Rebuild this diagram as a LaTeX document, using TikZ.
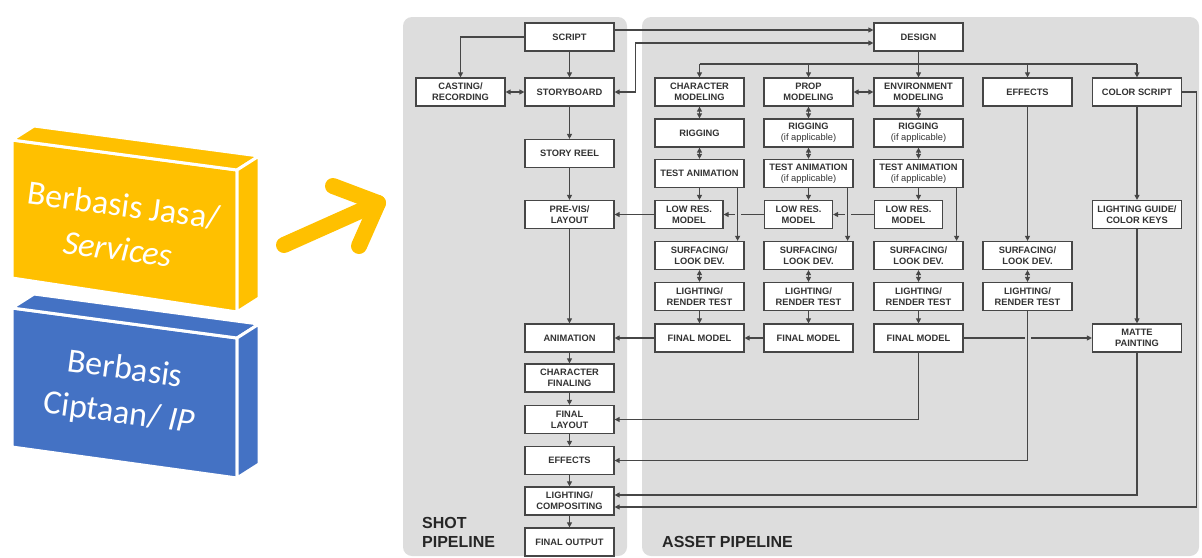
\documentclass[tikz,border=0pt]{standalone}
\usepackage{fontspec}
\setmainfont{Liberation Sans}
\newfontfamily\calibri{Carlito}
\usetikzlibrary{arrows.meta}
\definecolor{panel}{HTML}{DDDDDD}
\definecolor{ink}{HTML}{464646}
\definecolor{txt}{HTML}{333333}
\definecolor{gold}{HTML}{FFC000}
\definecolor{steel}{HTML}{4472C4}
\begin{document}
\begin{tikzpicture}[x=1pt,y=-1pt,
  stagebox/.style={draw=ink, fill=white, line width=1.2pt, minimum width=89pt,
    minimum height=28pt, inner sep=0pt, align=center, text=txt,
    font=\bfseries\fontsize{9.3}{11}\selectfont},
  lowbox/.style={stagebox, minimum width=68pt},
  link/.style={draw=ink, line width=1.1pt, -{Triangle[length=5pt,width=5pt]}},
  both/.style={link, {Triangle[length=5pt,width=5pt]}-{Triangle[length=5pt,width=5pt]}},
  plain/.style={draw=ink, line width=1.1pt},
  hop/.style={preaction={draw=panel, line width=6pt, -}},
  eraser/.style={draw=panel, line width=6pt},
  face/.style={draw=white, line width=3pt, line join=round},
  blocktext/.style={text=white, align=center, inner sep=0pt,
    font=\calibri\fontsize{34}{44}\selectfont},
  pipelabel/.style={anchor=base west, inner sep=0pt, text=black!85,
    font=\bfseries\fontsize{16}{19}\selectfont},
]
\useasboundingbox (0,0) rectangle (1202,557);

% ---- stacked business blocks ----
\path[face, fill=gold] (12,140) -- (237,170) -- (237,312) -- (12,278) -- cycle;
\path[face, fill=gold] (12,140) -- (34,126) -- (259,156) -- (237,170) -- cycle;
\path[face, fill=gold] (237,170) -- (259,156) -- (259,298) -- (237,312) -- cycle;
\path[face, fill=steel] (12,308) -- (237,338) -- (237,478) -- (12,447) -- cycle;
\path[face, fill=steel] (12,308) -- (34,294) -- (259,324) -- (237,338) -- cycle;
\path[face, fill=steel] (237,338) -- (259,324) -- (259,464) -- (237,478) -- cycle;
\node[blocktext, rotate=-7.6] (jasa) at (121,227) {Berbasis Jasa/\\\textit{Services}};
\node[blocktext, rotate=-7.6] (cipta) at (122,392) {Berbasis\\Ciptaan/ \textit{IP}};

% ---- pointer arrow ----
\coordinate (tail) at (284,245);
\coordinate (tip) at (378,203);
\coordinate (wingA) at (333,186);
\coordinate (wingB) at (359,246);
\draw[gold, line width=16pt, line cap=round, line join=round] (tail) -- (tip);
\draw[gold, line width=16pt, line cap=round, line join=round] (wingA) -- (tip) -- (wingB);

% ---- pipeline panels ----
\fill[panel, rounded corners=9pt] (403,17) rectangle (627,556);
\fill[panel, rounded corners=9pt] (642,17) rectangle (1199,556);
\node[pipelabel] (shotA) at (422,528) {SHOT};
\node[pipelabel] (shotB) at (422,547) {PIPELINE};
\node[pipelabel] (asset) at (662,547) {ASSET PIPELINE};

% ---- shot pipeline ----
\node[stagebox] (script)  at (569.5,37)    {SCRIPT};
\node[stagebox] (cast)    at (460.5,92)    {CASTING/\\RECORDING};
\node[stagebox] (story)   at (569.5,92)    {STORYBOARD};
\node[stagebox] (reel)    at (569.5,153.5) {STORY REEL};
\node[stagebox] (previs)  at (569.5,214.5) {PRE-VIS/\\LAYOUT};
\node[stagebox] (anim)    at (569.5,338)   {ANIMATION};
\node[stagebox] (charfin) at (569.5,378)   {CHARACTER\\FINALING};
\node[stagebox] (flay)    at (569.5,419.5) {FINAL\\LAYOUT};
\node[stagebox] (shfx)    at (569.5,460.5) {EFFECTS};
\node[stagebox] (comp)    at (569.5,501)   {LIGHTING/\\COMPOSITING};
\node[stagebox] (fout)    at (569.5,542)   {FINAL OUTPUT};

% ---- asset pipeline ----
\node[stagebox] (design) at (918.5,37) {DESIGN};

\node[stagebox] (chmod)  at (699.5,92) {CHARACTER\\MODELING};
\node[stagebox] (prmod)  at (808.5,92) {PROP\\MODELING};
\node[stagebox] (envmod) at (918.5,92) {ENVIRONMENT\\MODELING};
\node[stagebox] (fxmod)  at (1027.5,92) {EFFECTS};
\node[stagebox] (cscript) at (1137,92) {COLOR SCRIPT};

\node[stagebox] (chrig)  at (699.5,133) {RIGGING};
\node[stagebox] (prrig)  at (808.5,133) {RIGGING\\{\mdseries(if applicable)}};
\node[stagebox] (envrig) at (918.5,133) {RIGGING\\{\mdseries(if applicable)}};

\node[stagebox] (chtest)  at (699.5,173.5) {TEST ANIMATION};
\node[stagebox] (prtest)  at (808.5,173.5) {TEST ANIMATION\\{\mdseries(if applicable)}};
\node[stagebox] (envtest) at (918.5,173.5) {TEST ANIMATION\\{\mdseries(if applicable)}};

\node[lowbox] (chlow)  at (689,214.5)   {LOW RES.\\MODEL};
\node[lowbox] (prlow)  at (798.5,214.5) {LOW RES.\\MODEL};
\node[lowbox] (envlow) at (908.5,214.5) {LOW RES.\\MODEL};
\node[stagebox] (lguide) at (1137,214.5) {LIGHTING GUIDE/\\COLOR KEYS};

\node[stagebox] (chsurf)  at (699.5,255.5)  {SURFACING/\\LOOK DEV.};
\node[stagebox] (prsurf)  at (808.5,255.5)  {SURFACING/\\LOOK DEV.};
\node[stagebox] (envsurf) at (918.5,255.5)  {SURFACING/\\LOOK DEV.};
\node[stagebox] (fxsurf)  at (1027.5,255.5) {SURFACING/\\LOOK DEV.};

\node[stagebox] (chlrt)  at (699.5,296.5)  {LIGHTING/\\RENDER TEST};
\node[stagebox] (prlrt)  at (808.5,296.5)  {LIGHTING/\\RENDER TEST};
\node[stagebox] (envlrt) at (918.5,296.5)  {LIGHTING/\\RENDER TEST};
\node[stagebox] (fxlrt)  at (1027.5,296.5) {LIGHTING/\\RENDER TEST};

\node[stagebox] (chfm)  at (699.5,338) {FINAL MODEL};
\node[stagebox] (prfm)  at (808.5,338) {FINAL MODEL};
\node[stagebox] (envfm) at (918.5,338) {FINAL MODEL};
\node[stagebox] (matte) at (1137,338)  {MATTE\\PAINTING};

% ---- shot pipeline links ----
\draw[link] (script.west) -| (cast.north);
\draw[link] (script) -- (story);
\draw[both] (cast) -- (story);
\foreach \a/\b in {story/reel, reel/previs, previs/anim, anim/charfin,
                   charfin/flay, flay/shfx, shfx/comp, comp/fout}
  \draw[link] (\a) -- (\b);

% ---- script / storyboard to design ----
\draw[link] ([yshift=7pt]script.east) -- ([yshift=7pt]design.west);
\draw[both] (story.east) -- ++(21,0) |- ([yshift=-6pt]design.west);

% ---- design feeds the asset columns ----
\draw[plain] (chmod.north |- 0,64) -- (cscript.north |- 0,64);
\draw[link] (design.south) -- (envmod.north);
\foreach \n in {chmod, prmod, fxmod, cscript}
  \draw[link] (\n.north |- 0,64) -- (\n.north);
\draw[both] (prmod) -- (envmod);

% ---- modeling columns ----
\foreach \c in {ch, pr, env} {
  \draw[both] (\c mod) -- (\c rig);
  \draw[both] (\c rig) -- (\c test);
  \draw[link] (\c test.south) -- (\c test.south |- \c low.north);
  \draw[both] (\c surf) -- (\c lrt);
  \draw[link] (\c lrt) -- (\c fm);
}
\draw[link] (chlow.west) -- (previs.east);
\draw[link] (prlow.west) -- (chlow.east);
\draw[link] (envlow.west) -- (prlow.east);
\draw[link, hop] ([xshift=-7pt]chtest.south east) -- ([xshift=-7pt]chsurf.north east);
\draw[link, hop] ([xshift=-6pt]prtest.south east) -- ([xshift=-6pt]prsurf.north east);
\draw[link, hop] ([xshift=-7pt]envtest.south east) -- ([xshift=-7pt]envsurf.north east);

% ---- effects and colour columns ----
\draw[link] (fxmod) -- (fxsurf);
\draw[both] (fxsurf) -- (fxlrt);
\draw[link] (cscript) -- (lguide);
\draw[link] (lguide) -- (matte);

% ---- final models ----
\draw[link] (prfm.west) -- (chfm.west -| chfm.east);
\draw[link] (chfm.west) -- (anim.east);
\draw[link] (envfm.east) -- (matte.west);
\draw[link] (envfm.south) |- (flay.east);

% ---- returns into the shot pipeline ----
\draw[eraser] (fxlrt.south) -- (fxlrt.south |- 0,420);
\draw[link] (fxlrt.south) |- (shfx.east);
\draw[link] (matte.south) |- ([yshift=6pt]comp.east);
\draw[link] (cscript.east) -- ++(14,0) |- ([yshift=-6pt]comp.east);
\end{tikzpicture}
\end{document}
